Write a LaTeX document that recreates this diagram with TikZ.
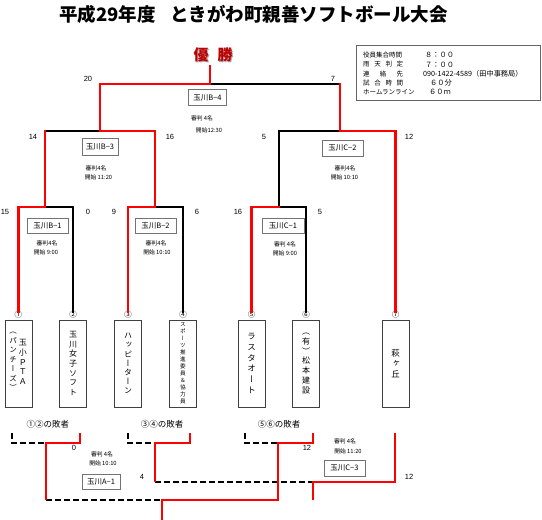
\documentclass[tikz,border=0pt]{standalone}
\usepackage{fontspec}
\usepackage{graphicx}
\setmainfont{Noto Sans CJK JP}
\newfontfamily\jp{Noto Sans CJK JP}
\newfontfamily\jpv[RawFeature=+vert]{Noto Sans CJK JP}
\newfontfamily\numf{Liberation Sans}
\begin{document}
\begin{tikzpicture}[x=1pt,y=-1pt,
  redline/.style={draw=red,line width=2.4pt,line cap=rect},
  blkline/.style={draw=black,line width=2.4pt,line cap=rect},
  dashline/.style={draw=black,line width=2pt,dash pattern=on 6pt off 3pt},
  matchbox/.style={draw=black!55,line width=0.7pt,fill=white,minimum width=40pt,minimum height=15pt,inner sep=0pt,font=\jp\fontsize{7.5}{8}\selectfont},
  reflbl/.style={font=\jp\fontsize{5.8}{6}\selectfont,inner sep=0pt},
  scorelbl/.style={font=\numf\fontsize{7.5}{8}\selectfont,inner sep=0pt},
  teambox/.style={draw=black!75,line width=0.7pt,minimum width=27pt,minimum height=87pt,inner sep=0pt},
  vtxt/.style={font=\jpv\fontsize{8}{9.7}\selectfont,align=center,inner sep=0pt},
  circnum/.style={font=\jp\fontsize{7.5}{8}\selectfont,inner sep=0pt},
  loserlbl/.style={font=\jp\fontsize{8.5}{9}\selectfont,inner sep=0pt},
  infolbl/.style={font=\jp\fontsize{6.5}{7}\selectfont,anchor=west,inner sep=0pt},
  infoval/.style={font=\jp\fontsize{7.2}{8}\selectfont,anchor=west,inner sep=0pt},
]
\useasboundingbox[fill=white] (0,0) rectangle (542,520);

% title
\node[font=\jp\bfseries\fontsize{18.5}{20}\selectfont,inner sep=0pt] (title) at (253.5,14) {平成29年度\hspace{0.8em}ときがわ町親善ソフトボール大会};
\node[font=\jp\bfseries\fontsize{15}{16}\selectfont,text=black!35,inner sep=0pt] (winshadow) at (214,56) {優\hspace{0.6em}勝};
\node[font=\jp\bfseries\fontsize{15}{16}\selectfont,text=red!75!black,inner sep=0pt] (win) at (213,55) {優\hspace{0.6em}勝};

% info box
\node[draw=black!60,line width=0.8pt,minimum width=184pt,minimum height=55pt,anchor=north west,inner sep=0pt] (infobox) at (356,45) {};
\node[infolbl] (i1) at (363,55) {\makebox[40pt][s]{役員集合時間}};
\node[infoval] (v1) at (425,55) {８：００};
\node[infolbl] (i2) at (363,64.5) {\makebox[40pt][s]{雨\hfill 天\hfill 判\hfill 定}};
\node[infoval] (v2) at (425,64.5) {７：００};
\node[infolbl] (i3) at (363,74) {\makebox[40pt][s]{連\hfill 絡\hfill 先}};
\node[infoval] (v3) at (423,74) {090-1422-4589（田中事務局）};
\node[infolbl] (i4) at (363,83) {\makebox[40pt][s]{試\hfill 合\hfill 時\hfill 間}};
\node[infoval] (v4) at (430,83) {６０分};
\node[infolbl] (i5) at (363,92) {ホームランライン};
\node[infoval] (v5) at (429,92) {６０ｍ};

% teams
\node[teambox] (t1) at (18.5,363.5) {};
\node[vtxt] (t1a) at (23,362) {玉\\小\\Ｐ\\Ｔ\\Ａ};
\node[vtxt,font=\jpv\fontsize{7.5}{9.5}\selectfont] (t1b) at (13,361.5) {（\\パ\\ン\\チ\\ー\\ズ\\）};
\node[teambox,vtxt] (t2) at (73,363.5) {玉\\川\\女\\子\\ソ\\フ\\ト};
\node[teambox,vtxt,font=\jpv\fontsize{8}{9.2}\selectfont] (t3) at (128,363.5) {ハ\\ッ\\ピ\\ー\\タ\\ー\\ン};
\node[teambox,vtxt,font=\jpv\fontsize{5.6}{7}\selectfont] (t4) at (183,363.5) {ス\\ポ\\ー\\ツ\\推\\進\\委\\員\\＆\\協\\力\\員};
\node[teambox,vtxt,font=\jpv\fontsize{8.5}{10.8}\selectfont] (t5) at (251.5,363.5) {ラ\\ス\\タ\\オ\\ー\\ト};
\node[teambox,vtxt] (t6) at (306,363.5) {（\\有\\）\\松\\本\\建\\設};
\node[teambox,vtxt,font=\jpv\fontsize{8.5}{10.5}\selectfont] (t7) at (395.5,363.5) {萩\\ヶ\\丘};

\node[circnum] (n1) at (18.5,315) {①};
\node[circnum] (n2) at (73,315) {②};
\node[circnum] (n3) at (128,315) {③};
\node[circnum] (n4) at (183,315) {④};
\node[circnum] (n5) at (251.5,315) {⑤};
\node[circnum] (n6) at (306,315) {⑥};
\node[circnum] (n7) at (395.5,315) {⑦};

% junctions
\coordinate (b1) at (45,207);
\coordinate (b2) at (155,207);
\coordinate (c1) at (279,207);
\coordinate (b3) at (100,131);
\coordinate (c2) at (340,131);
\coordinate (b4) at (210,84);
\coordinate (champ) at (210,66);

% black paths
\draw[blkline] (n2.north) |- (b1);
\draw[blkline] (n4.north) |- (b2);
\draw[blkline] (n6.north) |- (c1);
\draw[blkline] (b1 |- b3) -- (b3);
\draw[blkline] (c1) -- (c1 |- c2) -- (c2);
\draw[blkline] (b4) -- (c2 |- b4);
% red paths
\draw[redline] (n1.north) |- (b1) -- (b1 |- b3);
\draw[redline] (n3.north) |- (b2) -- (b2 |- b3) -- (b3) -- (b3 |- b4) -- (b4) -- (champ);
\draw[redline] (n5.north) |- (c1);
\draw[redline] (n7.north) |- (c2) -- (c2 |- b4);

% match boxes and notes
\node[matchbox,minimum width=38pt,minimum height=16pt] (mB4) at (207.5,97.5) {玉川B−4};
\node[reflbl] (rB4a) at (202,118) {審判 4名};
\node[reflbl] (rB4b) at (209,130) {開始12:30};
\node[matchbox,minimum width=36pt,minimum height=17pt] (mB3) at (100,147) {玉川B−3};
\node[reflbl] (rB3a) at (96,168) {審判4名};
\node[reflbl] (rB3b) at (98.5,177) {開始 11:20};
\node[matchbox,minimum width=41pt] (mB1) at (47.5,226) {玉川B−1};
\node[reflbl] (rB1a) at (47,243) {審判4名};
\node[reflbl] (rB1b) at (46,252) {開始 9:00};
\node[matchbox,minimum width=41pt] (mB2) at (155.5,226) {玉川B−2};
\node[reflbl] (rB2a) at (156,243) {審判4名};
\node[reflbl] (rB2b) at (157,252) {開始 10:10};
\node[matchbox,minimum width=41pt,minimum height=16pt] (mC2) at (342.5,148) {玉川C−2};
\node[reflbl] (rC2a) at (345,168) {審判4名};
\node[reflbl] (rC2b) at (344.5,177) {開始 10:10};
\node[matchbox,minimum width=42pt] (mC1) at (283,226) {玉川C−1};
\node[reflbl] (rC1a) at (285,244) {審判 4名};
\node[reflbl] (rC1b) at (285,253) {開始 9:00};

% scores
\node[scorelbl] (s1) at (88,79) {20};
\node[scorelbl] (s2) at (333,79) {7};
\node[scorelbl] (s3) at (33,137) {14};
\node[scorelbl] (s4) at (170,137) {16};
\node[scorelbl] (s5) at (264,137) {5};
\node[scorelbl] (s6) at (409,137) {12};
\node[scorelbl] (s7) at (5,212) {15};
\node[scorelbl] (s8) at (88,212) {0};
\node[scorelbl] (s9) at (114,212) {9};
\node[scorelbl] (s10) at (197,212) {6};
\node[scorelbl] (s11) at (238,212) {16};
\node[scorelbl] (s12) at (320,212) {5};

% consolation
\node[loserlbl] (L1) at (48,424) {①②の敗者};
\node[loserlbl] (L2) at (162,424) {③④の敗者};
\node[loserlbl] (L3) at (279,424) {⑤⑥の敗者};

\coordinate (la) at (12,433);
\coordinate (ja) at (46,443);
\coordinate (ra) at (80,433);
\coordinate (pa) at (46,500);
\coordinate (m) at (162,500);
\coordinate (mb) at (162,520);
\coordinate (lb) at (128,433);
\coordinate (jb) at (155,443);
\coordinate (rb) at (190,433);
\coordinate (pb) at (155,482);
\coordinate (q) at (313,482);
\coordinate (s) at (395,433);
\coordinate (lc) at (245,433);
\coordinate (jc) at (278,443);
\coordinate (rc) at (313,433);
\coordinate (pc) at (278,500);

\draw[dashline] (la) |- (ja);
\draw[dashline] (pa) -- (m);
\draw[dashline] (lb) |- (jb);
\draw[dashline] (pb) -- (q);
\draw[dashline] (lc) |- (jc);
\draw[redline,line cap=butt] (ra) |- (ja) -- (pa);
\draw[redline,line cap=butt] (rb) |- (jb) -- (pb);
\draw[redline,line cap=butt] (rc) |- (jc) -- (pc) -- (m) -- (mb);
\draw[redline,line cap=butt] (s) |- (q) -- (q |- m);

\node[reflbl] (rA1a) at (102,454) {審判 4名};
\node[reflbl] (rA1b) at (103,463) {開始 10:10};
\node[matchbox,minimum width=38pt] (mA1) at (101,481.5) {玉川A−1};
\node[reflbl] (rC3a) at (345,441) {審判 4名};
\node[reflbl] (rC3b) at (348,451) {開始 11:20};
\node[matchbox,minimum width=41pt,minimum height=16pt] (mC3) at (344.5,468) {玉川C−3};

\node[scorelbl] (s13) at (74,448) {0};
\node[scorelbl] (s14) at (142,477) {4};
\node[scorelbl] (s15) at (307,448) {12};
\node[scorelbl] (s16) at (409,477) {12};
\end{tikzpicture}
\end{document}
